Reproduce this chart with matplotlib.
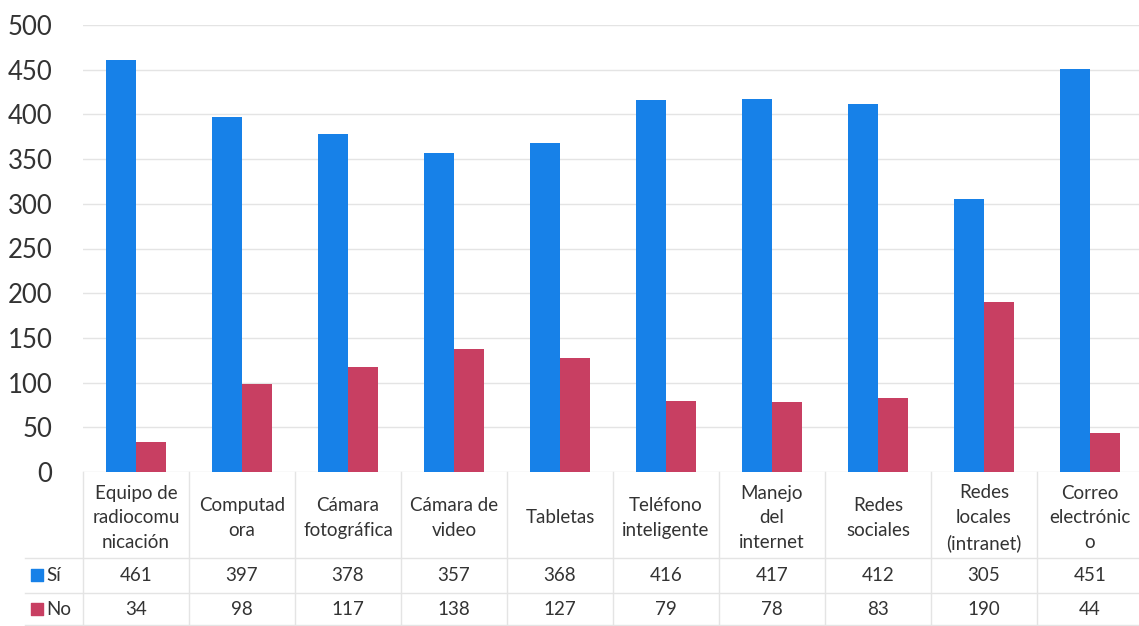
import matplotlib.pyplot as plt
import numpy as np

# datos de la encuesta
categorias = ['Equipo de\nradiocomu\nnicación', 'Computad\nora', 'Cámara\nfotográfica',
              'Cámara de\nvideo', 'Tabletas', 'Teléfono\ninteligente', 'Manejo\ndel\ninternet',
              'Redes\nsociales', 'Redes\nlocales\n(intranet)', 'Correo\nelectrónic\no']
si = [461, 397, 378, 357, 368, 416, 417, 412, 305, 451]
no = [34, 98, 117, 138, 127, 79, 78, 83, 190, 44]
series = ['Sí', 'No']
yticks = [0, 50, 100, 150, 200, 250, 300, 350, 400, 450, 500]

azul = '#1781E8'
rojo = '#C83F62'
gris = '#e4e4e4'
texto = '#333333'

plt.rcParams['font.family'] = ['Lato', 'DejaVu Sans']

W, H = 1139, 626
fig = plt.figure(figsize=(W / 100, H / 100), dpi=100)

# zona del grafico en pixeles
x0, x1 = 83, 1143
y0, ytop = 472, 25
ax = fig.add_axes([x0 / W, 1 - y0 / H, (x1 - x0) / W, (y0 - ytop) / H])

x = np.arange(len(categorias))
w = 0.285
ax.bar(x - w / 2, si, w, color=azul, zorder=3)
ax.bar(x + w / 2, no, w, color=rojo, zorder=3)

ax.set_xlim(-0.5, len(categorias) - 0.5)
ax.set_ylim(0, 500)
ax.set_yticks(yticks)
ax.set_yticklabels([str(t) for t in yticks], fontsize=18.5, color=texto)
ax.tick_params(axis='y', length=0, pad=22)
ax.set_xticks([])
ax.yaxis.grid(True, color=gris, lw=1)
ax.set_axisbelow(True)
for s in ax.spines.values():
    s.set_visible(False)

# tabla de datos debajo del grafico
tab = fig.add_axes([x0 / W, 0, (x1 - x0) / W, (H - y0) / H])
tab.set_xlim(-0.5, len(categorias) - 0.5)
tab.set_ylim(H, y0)
tab.axis('off')

colw = (x1 - x0) / len(categorias)


def px2x(px):
    return (px - x0) / colw - 0.5


fila1, fila2 = 558, 593
lx = px2x(25)
for yy in [fila1, fila2, H - 1]:
    tab.plot([lx, len(categorias) - 0.5], [yy, yy], color=gris, lw=1, clip_on=False)
for k in range(len(categorias) + 1):
    tab.plot([k - 0.5, k - 0.5], [y0, H], color=gris, lw=1, clip_on=False)

fs = 13.5
for i, cat in enumerate(categorias):
    tab.text(i, (y0 + fila1) / 2 + 3, cat, ha='center', va='center', fontsize=fs,
             linespacing=1.55, color=texto)
    tab.text(i, (fila1 + fila2) / 2, str(si[i]), ha='center', va='center', fontsize=fs,
             color=texto)
    tab.text(i, (fila2 + H) / 2, str(no[i]), ha='center', va='center', fontsize=fs,
             color=texto)

for nombre, col, yy in [(series[0], azul, (fila1 + fila2) / 2), (series[1], rojo, (fila2 + H) / 2)]:
    tab.scatter([px2x(37)], [yy], marker='s', s=65, color=col, clip_on=False)
    tab.text(px2x(46), yy, nombre, ha='left', va='center', fontsize=fs, color=texto)

fig.savefig('out.png', dpi=100)
